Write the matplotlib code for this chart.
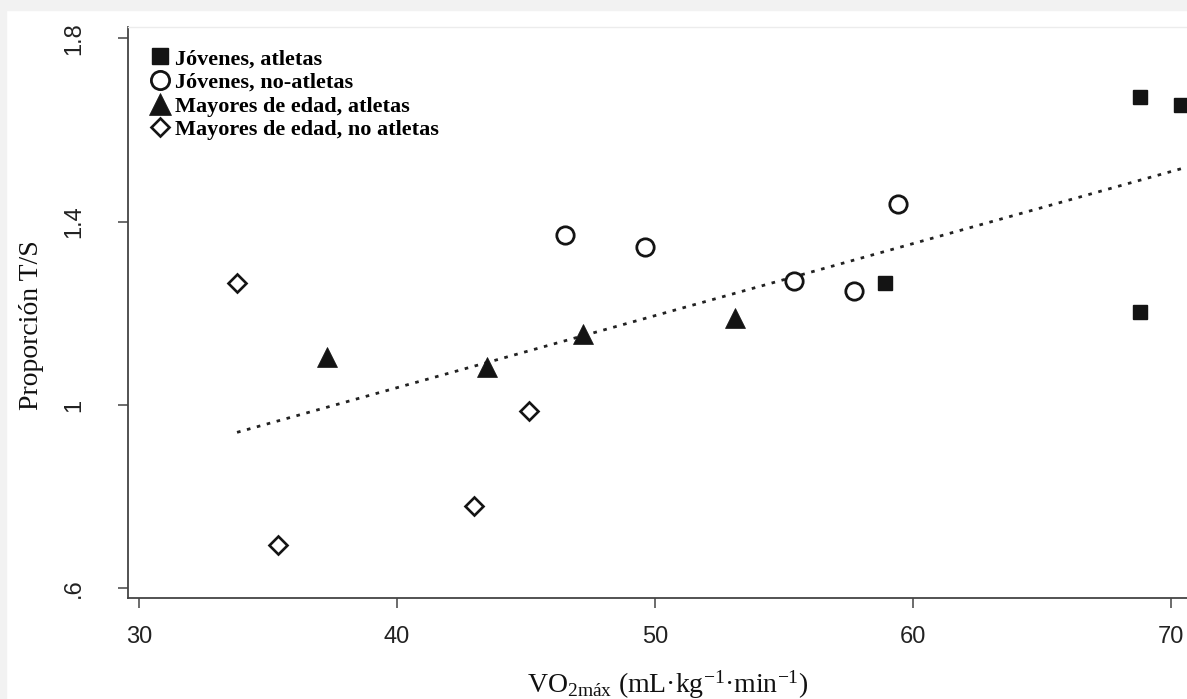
import matplotlib
matplotlib.use("Agg")
import matplotlib.pyplot as plt
from matplotlib.patches import Rectangle
import numpy as np

plt.rcParams['mathtext.fontset'] = 'custom'
plt.rcParams['mathtext.rm'] = 'Liberation Serif'
plt.rcParams['mathtext.it'] = 'Liberation Serif:italic'

# VO2max (x) and T/S ratio (y) for each group
young_ath_x = [68.8, 70.4, 58.9, 68.8]
young_ath_y = [1.672, 1.655, 1.266, 1.203]

young_non_x = [46.5, 49.6, 55.4, 57.7, 59.4]
young_non_y = [1.371, 1.345, 1.271, 1.249, 1.439]

old_ath_x = [37.3, 43.5, 47.2, 53.1]
old_ath_y = [1.105, 1.083, 1.155, 1.190]

old_non_x = [33.8, 35.4, 43.0, 45.1]
old_non_y = [1.266, 0.695, 0.780, 0.987]

# regression line: intercept, slope and x range
fit_coef = [0.01572, 0.409]
fit_x = [33.8, 70.62]

labels = ['Jóvenes, atletas', 'Jóvenes, no-atletas',
          'Mayores de edad, atletas', 'Mayores de edad, no atletas']

xticks = [30, 40, 50, 60, 70]
yticks = [0.6, 1.0, 1.4, 1.8]
yticklabels = ['.6', '1', '1.4', '1.8']

W, H = 1187, 699
fig = plt.figure(figsize=(W / 100, H / 100), dpi=100)
fig.patch.set_facecolor('white')
# light grey frame along the top and left edges
fig.patches.append(Rectangle((0, 1 - 10 / H), 1, 10 / H, transform=fig.transFigure,
                             color='#f2f2f2', zorder=0))
fig.patches.append(Rectangle((0, 0), 6 / W, 1, transform=fig.transFigure,
                             color='#f2f2f2', zorder=0))

ax = fig.add_axes([128 / W, (H - 598) / H, (W - 128) / W, (598 - 27) / H])
ax.set_facecolor('none')

dark = '#141414'
ax.plot(young_ath_x, young_ath_y, 's', ms=10.5, mfc=dark, mec=dark, mew=1.0,
        label=labels[0], clip_on=False)
ax.plot(young_non_x, young_non_y, 'o', ms=12.5, mfc='white', mec=dark, mew=2.0,
        label=labels[1])
ax.plot(old_ath_x, old_ath_y, '^', ms=15, mfc=dark, mec=dark, mew=0.5,
        label=labels[2])
ax.plot(old_non_x, old_non_y, 'D', ms=9, mfc='white', mec=dark, mew=1.9,
        label=labels[3])

xs = np.array(fit_x)
ax.plot(xs, np.polyval(fit_coef, xs), color='#222222', lw=2.0,
        dashes=(1.3, 2.4), zorder=1)

ax.set_xlim(29.574, 70.62)
ax.set_ylim(0.5789, 1.8248)

for s in ['left', 'bottom']:
    ax.spines[s].set_color('#444444')
    ax.spines[s].set_linewidth(1.3)
ax.spines['right'].set_visible(False)
ax.spines['top'].set_color('#ececec')
ax.spines['top'].set_linewidth(1.0)

ax.set_xticks(xticks)
ax.set_yticks(yticks)
ax.set_yticklabels(yticklabels)
ax.tick_params(axis='both', length=7, width=1.1, color='#444444',
               labelsize=17, labelcolor='#222222')
ax.tick_params(axis='x', pad=13)
ax.tick_params(axis='y', pad=24)
for lab in ax.get_xticklabels() + ax.get_yticklabels():
    lab.set_family('Liberation Sans')
for lab in ax.get_yticklabels():
    lab.set_rotation(90)
    lab.set_va('center')

ax.set_ylabel('Proporción T/S', family='Liberation Serif', fontsize=20,
              color='#111111', va='center')
ax.yaxis.set_label_coords(-0.0915, 0.478)
ax.set_xlabel(r'VO$_{\mathrm{2máx}}$ (mL·kg$^{\mathrm{-1}}$·min$^{\mathrm{-1}}$)',
              family='Liberation Serif', fontsize=20, color='#111111', va='center')
ax.xaxis.set_label_coords(0.51, -0.152)

ax.legend(loc='upper left', bbox_to_anchor=(0.0198, 0.962), frameon=False,
          prop={'family': 'Liberation Serif', 'weight': 'bold', 'size': 16},
          handlelength=1.0, handletextpad=0.15, labelspacing=0.14,
          borderpad=0, borderaxespad=0, markerscale=1.05)

fig.savefig('out.png', dpi=100)
